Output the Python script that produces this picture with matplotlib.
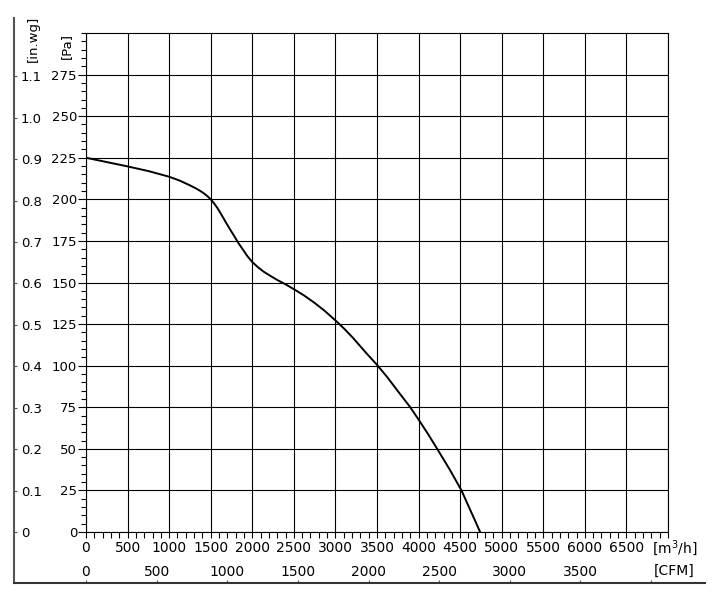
import numpy as np
import matplotlib
matplotlib.use("Agg")
import matplotlib.pyplot as plt
from matplotlib.ticker import MultipleLocator, FixedLocator

# fan curve (flow in m3/h, static pressure in Pa)
flow = [0, 250, 500, 750, 1000, 1130, 1250, 1310, 1370, 1420, 1460, 1500,
        1540, 1580, 1612, 1670, 1732, 1790, 1832, 1890, 1940, 2000, 2070,
        2137, 2220, 2298, 2400, 2500, 2620, 2742, 2870, 3000, 3110, 3213,
        3374, 3500, 3620, 3740, 3900, 4000, 4110, 4220, 4380, 4516, 4620,
        4680, 4740]
pressure = [225, 222.4, 219.8, 217, 213.6, 211.2, 208.4, 206.9, 205.2,
            203.5, 201.9, 200, 197.6, 194.8, 192.2, 187.2, 182, 177.3, 173.8,
            169.6, 165.9, 162.3, 159.1, 156.5, 153.9, 151.6, 148.9, 146,
            142.3, 138, 133, 127.2, 122, 116.6, 107.4, 100.5, 93.3, 85.4, 75,
            67.6, 59.2, 50.3, 37.1, 25, 13.4, 6.8, 0]

m3h_ticks = list(range(0, 7001, 500))
m3h_labels = [str(v) for v in m3h_ticks[:-1]] + [""]
pa_ticks = list(range(0, 276, 25))
inwg_ticks = [0, 0.1, 0.2, 0.3, 0.4, 0.5, 0.6, 0.7, 0.8, 0.9, 1.0, 1.1]
inwg_labels = ["0", "0.1", "0.2", "0.3", "0.4", "0.5", "0.6", "0.7", "0.8",
               "0.9", "1.0", "1.1"]
cfm_ticks = [0, 500, 1000, 1500, 2000, 2500, 3000, 3500, 4000]
cfm_labels = ["0", "500", "1000", "1500", "2000", "2500", "3000", "3500", ""]

PA_PER_INWG = 249.089
M3H_PER_CFM = 1.69901

W, H = 715, 595
PT = 0.72  # points per pixel at dpi 100
plt.rcParams["font.family"] = ["DejaVu Sans"]
fig = plt.figure(figsize=(W / 100, H / 100), dpi=100)


def fx(px):
    return px / W


def fy(py):
    return 1 - py / H


# main plot area: x 86..668 px, y 33..532 px
x0, x1, y0, y1 = 86, 668, 33, 532
ax = fig.add_axes([fx(x0), fy(y1), fx(x1 - x0), (y1 - y0) / H])
ax.plot(flow, pressure, color="black", lw=1.4, zorder=3,
        solid_joinstyle="round")
ax.set_xlim(0, 7000)
ax.set_ylim(0, 300)
ax.xaxis.set_major_locator(FixedLocator(m3h_ticks))
ax.set_xticklabels(m3h_labels)
ax.xaxis.set_minor_locator(MultipleLocator(100))
ax.yaxis.set_major_locator(FixedLocator(pa_ticks))
ax.yaxis.set_minor_locator(MultipleLocator(5))
ax.grid(True, which="major", color="black", lw=0.8)
ax.set_axisbelow(True)
for s in ax.spines.values():
    s.set_color("black")
    s.set_linewidth(0.8)
ax.tick_params(axis="x", which="both", length=6 * PT, width=0.8,
               pad=2, labelsize=10)
ax.tick_params(axis="y", which="major", length=8 * PT, width=0.8,
               pad=1 * PT, labelsize=9.5)
ax.tick_params(axis="y", which="minor", length=5 * PT, width=0.8)

px_per_m3h = (x1 - x0) / 7000
px_per_pa = (y1 - y0) / 300

# in.wg scale on a separate vertical line at x=14 px, from y=18 to 583 px
top_px, bot_px, left_px, right_px = 18, 583, 14, 705
pa_top = (y1 - top_px) / px_per_pa
pa_bot = (y1 - bot_px) / px_per_pa
ax_in = fig.add_axes([fx(left_px), fy(bot_px), 1e-6, (bot_px - top_px) / H])
ax_in.set_ylim(pa_bot / PA_PER_INWG, pa_top / PA_PER_INWG)
ax_in.set_yticks(inwg_ticks)
ax_in.set_yticklabels(inwg_labels)
ax_in.yaxis.tick_right()
ax_in.set_xticks([])
for k in ["left", "top", "bottom"]:
    ax_in.spines[k].set_visible(False)
ax_in.spines["right"].set_color("#555555")
ax_in.spines["right"].set_linewidth(1.5)
ax_in.tick_params(axis="y", length=3 * PT, width=0.8, pad=4 * PT,
                  labelsize=9.5, color="#555555")
ax_in.patch.set_visible(False)

# CFM scale on a horizontal line at y=583 px
m3h_left = (left_px - x0) / px_per_m3h
m3h_right = (right_px - x0) / px_per_m3h
ax_cfm = fig.add_axes([fx(left_px), fy(bot_px), fx(right_px - left_px), 1e-6])
ax_cfm.set_xlim(m3h_left / M3H_PER_CFM, m3h_right / M3H_PER_CFM)
ax_cfm.set_xticks(cfm_ticks)
ax_cfm.set_xticklabels(cfm_labels)
ax_cfm.xaxis.tick_top()
ax_cfm.set_yticks([])
for k in ["left", "right", "bottom"]:
    ax_cfm.spines[k].set_visible(False)
ax_cfm.spines["top"].set_color("#333333")
ax_cfm.spines["top"].set_linewidth(1.5)
ax_cfm.tick_params(axis="x", length=3 * PT, width=0.8, pad=0.5,
                   labelsize=10, color="#555555")
ax_cfm.patch.set_visible(False)

# unit labels
fig.text(fx(33), fy(39), "[in.wg]", rotation=90, ha="center", va="center",
         fontsize=9.5)
fig.text(fx(66), fy(46), "[Pa]", rotation=90, ha="center", va="center",
         fontsize=9.5)
fig.text(fx(652), fy(548), "[m$^3$/h]", ha="left", va="center", fontsize=10)
fig.text(fx(654), fy(571), "[CFM]", ha="left", va="center", fontsize=10)

fig.savefig("out.png", dpi=100, facecolor="white")
